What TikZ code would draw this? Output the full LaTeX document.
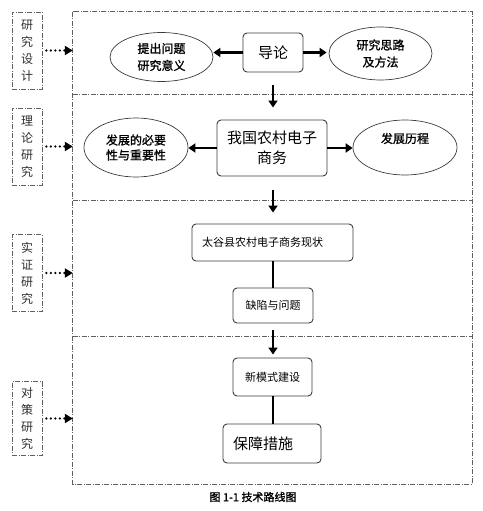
\documentclass[tikz,border=0pt]{standalone}
\usepackage{fontspec}
\setmainfont{Noto Sans CJK SC}
\newfontfamily\heavy[FakeBold=1.2]{Noto Sans CJK SC}
\usetikzlibrary{arrows.meta,shapes.geometric}

\definecolor{frame color}{RGB}{95,95,95}
\definecolor{box color}{RGB}{60,60,60}
\definecolor{label color}{RGB}{45,45,45}

\begin{document}
\begin{tikzpicture}[x=1pt, y=-1pt,
	frame/.style={draw=frame color, line width=.8pt, dash pattern=on 5pt off 1.5pt on 1pt off 1.5pt},
	band/.style={minimum width=399pt, inner sep=0pt},
	stage/.style={frame, minimum width=30pt, minimum height=77pt, inner sep=0pt, align=center, text=label color, font=\fontsize{12}{17}\selectfont},
	box/.style={draw=box color, line width=.9pt, rounded corners=4pt, align=center, inner sep=0pt},
	oval/.style={draw=box color, ellipse, line width=.7pt, inner sep=0pt, align=center, font=\heavy\fontsize{12}{17}\selectfont},
	flow/.style={line width=2.6pt, -{Triangle[length=7pt, width=9pt]}},
	link/.style={line width=2.6pt},
	hint/.style={line width=2.6pt, line cap=round, dash pattern=on 0pt off 4.5pt, shorten <=4pt, -{Triangle[length=8pt, width=9pt]}}]
	\useasboundingbox (0,0) rectangle (482,511);

	% stages
	\node (band1) at (272.5,53) [band, minimum height=82pt] {};
	\node (band2) at (272.5,147) [band, minimum height=106pt] {};
	\node (band3) at (272.5,268) [band, minimum height=136pt] {};
	\node (band4) at (272.5,410) [band, minimum height=148pt] {};
	\draw [frame] (band1.north west) rectangle (band4.south east);
	\foreach \i in {1,2,3}
		\draw [frame] (band\i.south west) -- (band\i.south east);

	\node (lab1) at (27,50.5) [stage] {研\\究\\设\\计};
	\node (lab2) at (27,146.5) [stage] {理\\论\\研\\究};
	\node (lab3) at (27,273) [stage] {实\\证\\研\\究};
	\node (lab4) at (27,418.5) [stage, minimum height=74pt] {对\\策\\研\\究};

	\foreach \i in {1,...,4}
		\draw [hint] (lab\i.east) -- (lab\i.east -| band\i.west);

	% 研究设计
	\node (daolun) at (273,52.5) [box, minimum width=60pt, minimum height=39pt, font=\fontsize{15}{18}\selectfont] {导论};
	\node (wenti) at (161.5,57) [oval, minimum width=103pt, minimum height=49pt] {提出问题\\研究意义};
	\node (silu) at (380.5,53.5) [oval, minimum width=103pt, minimum height=53pt] {研究思路\\及方法};
	\draw [flow] (daolun.west) -- (daolun.west -| wenti.east);
	\draw [flow] (daolun.east) -- ([xshift=-2pt]daolun.east -| silu.west);

	% 理论研究
	\node (guonei) at (272,148) [box, minimum width=110pt, minimum height=56pt, font=\fontsize{15}{20}\selectfont] {我国农村电子\\商务};
	\node (biyao) at (136,147.5) [oval, minimum width=104pt, minimum height=59pt, font=\heavy\fontsize{12}{15}\selectfont] {发展的必要\\性与重要性};
	\node (licheng) at (405,147.5) [oval, minimum width=104pt, minimum height=55pt, label={[yshift=9pt, font=\heavy\fontsize{12}{15}\selectfont]center:发展历程}] {};
	\draw [flow] (guonei.west) -- (guonei.west -| biyao.east);
	\draw [flow] (guonei.east) -- (guonei.east -| licheng.west);
	\draw [flow, shorten <=13pt, shorten >=12pt] (daolun.south) -- (daolun.south |- guonei.north);

	% 实证研究
	\node (taigu) at (272.5,242.5) [box, minimum width=161pt, minimum height=37pt, text width=141pt, inner xsep=10pt, align=left, font=\fontsize{11}{13}\selectfont] {太谷县农村电子商务现状};
	\node (quexian) at (273,305.5) [box, minimum width=80pt, minimum height=35pt, font=\fontsize{11}{13}\selectfont] {缺陷与问题};
	\draw [flow, shorten <=14pt, shorten >=11pt] (daolun.south |- guonei.south) -- (daolun.south |- taigu.north);
	\draw [link] (quexian.north |- taigu.south) -- (quexian.north);

	% 对策研究
	\node (xin) at (272.5,377) [box, minimum width=79pt, minimum height=38pt, font=\fontsize{11}{13}\selectfont] {新模式建设};
	\node (baozhang) at (272,443.5) [box, minimum width=98pt, minimum height=39pt, text width=78pt, inner xsep=10pt, align=left, font=\fontsize{15}{18}\selectfont] {保障措施};
	\draw [flow, shorten <=7pt, shorten >=3pt] (quexian.south) -- (quexian.south |- xin.north);
	\draw [link] (quexian.south |- xin.south) -- (quexian.south |- baozhang.north);

	\node (caption) at (253,497) [font=\heavy\fontsize{11}{13}\selectfont] {图 1-1 技术路线图};
\end{tikzpicture}
\end{document}
